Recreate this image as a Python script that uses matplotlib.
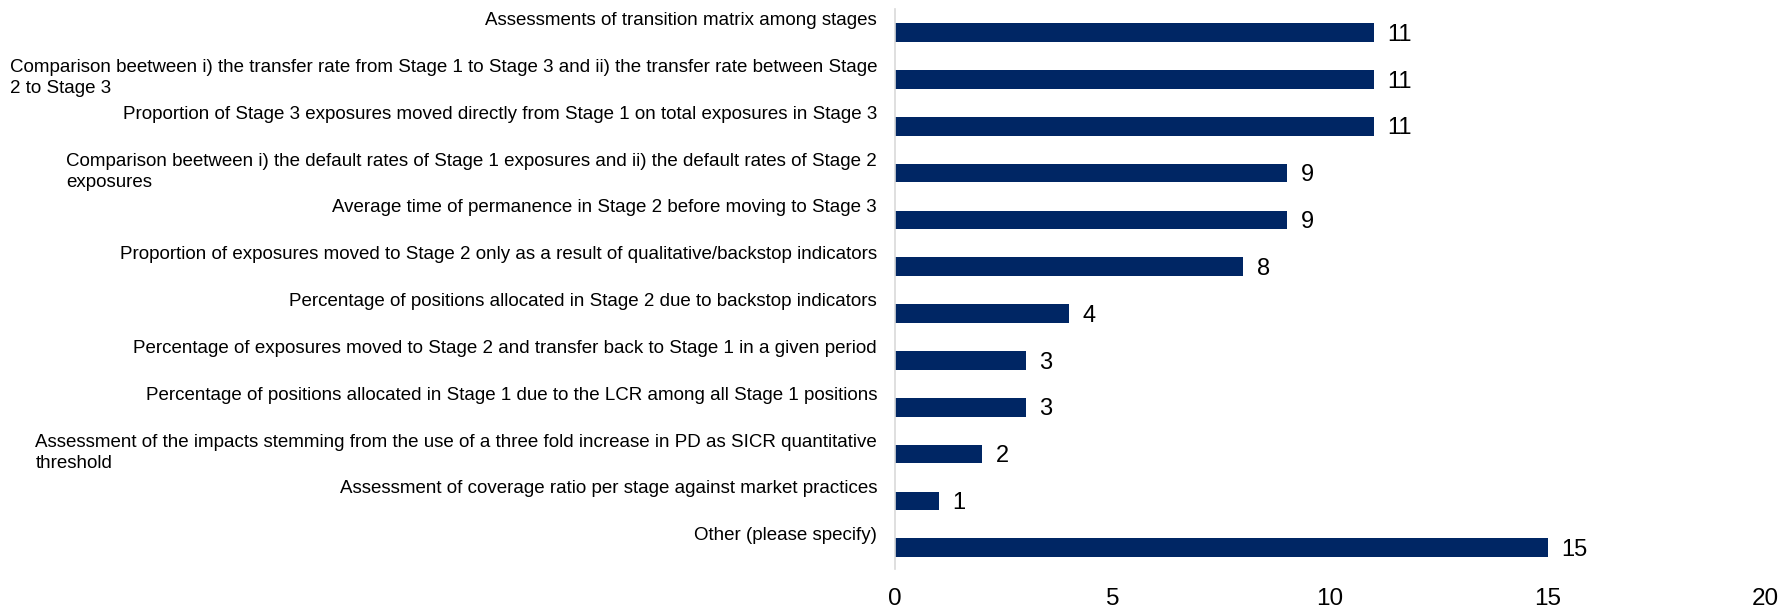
#!/usr/bin/env python
# horizontal bar chart: number of banks using each stage-allocation check

import matplotlib
matplotlib.use('Agg')

import matplotlib.pyplot as plt
import numpy as np

plt.rcParams['font.family'] = ['Liberation Sans', 'DejaVu Sans']

labels = [
    'Assessments of transition matrix among stages',
    'Comparison beetween i) the transfer rate from Stage 1 to Stage 3 and ii) the transfer rate between Stage\n2 to Stage 3',
    'Proportion of Stage 3 exposures moved directly from Stage 1 on total exposures in Stage 3',
    'Comparison beetween i) the default rates of Stage 1 exposures and ii) the default rates of Stage 2\nexposures',
    'Average time of permanence in Stage 2 before moving to Stage 3',
    'Proportion of exposures moved to Stage 2 only as a result of qualitative/backstop indicators',
    'Percentage of positions allocated in Stage 2 due to backstop indicators',
    'Percentage of exposures moved to Stage 2 and transfer back to Stage 1 in a given period',
    'Percentage of positions allocated in Stage 1 due to the LCR among all Stage 1 positions',
    'Assessment of the impacts stemming from the use of a three fold increase in PD as SICR quantitative\nthreshold',
    'Assessment of coverage ratio per stage against market practices',
    'Other (please specify)',
]
counts = [11, 11, 11, 9, 9, 8, 4, 3, 3, 2, 1, 15]
xticks = [0, 5, 10, 15, 20]

bar_color = '#002664'

fig = plt.figure(figsize=(17.83, 6.13), dpi=100)
ax = fig.add_axes([0.502, 0.072, 0.488, 0.913])

y = np.arange(len(counts))
ax.barh(y, counts, height=0.4, color=bar_color)
ax.set_ylim(len(counts) - 0.55, -0.5)
ax.set_xlim(0, 20)

# value labels at the end of each bar
for yi, v in zip(y, counts):
    ax.annotate(str(v), xy=(v, yi), xytext=(10, -1.5), textcoords='offset points',
                ha='left', va='center', fontsize=17)

# category labels, block right-aligned against the axis
ax.set_yticks([])
for yi, lab in zip(y, labels):
    ax.annotate(lab, xy=(0, yi - 0.44), xycoords=('axes fraction', 'data'),
                xytext=(-13, 0), textcoords='offset points',
                ha='right', va='top', multialignment='left', fontsize=13.5,
                linespacing=1.35)

ax.set_xticks(xticks)
ax.set_xticklabels([str(t) for t in xticks], fontsize=17.5)
ax.tick_params(axis='x', length=0, pad=14)

for s in ['top', 'right', 'bottom']:
    ax.spines[s].set_visible(False)
ax.spines['left'].set_color('#d9d9d9')
ax.spines['left'].set_linewidth(1.2)

plt.savefig('out.png', dpi=100)
